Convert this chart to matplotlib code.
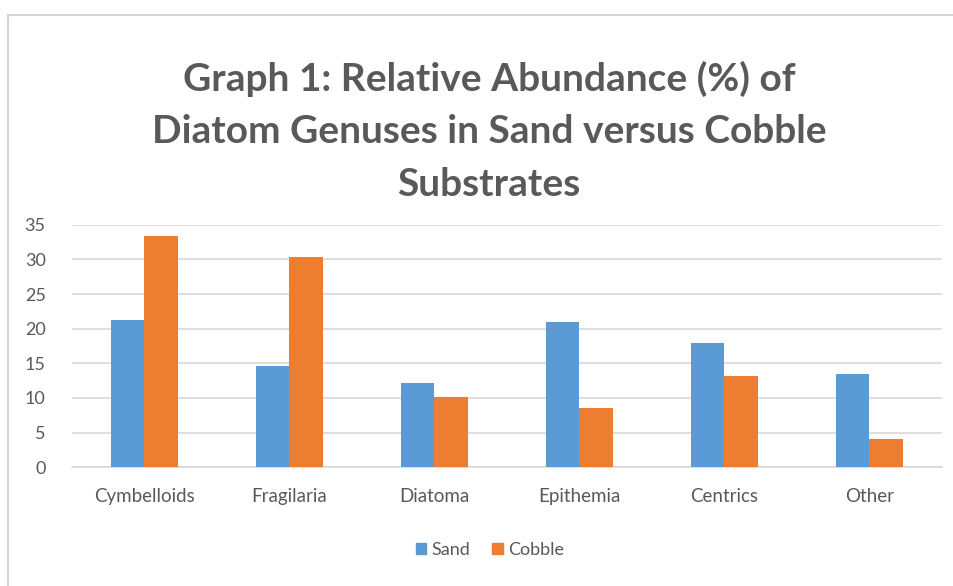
import matplotlib
matplotlib.use("Agg")
import matplotlib.pyplot as plt
from matplotlib.patches import Rectangle, Patch
import numpy as np

categories = ["Cymbelloids", "Fragilaria", "Diatoma", "Epithemia", "Centrics", "Other"]
sand = [21.2, 14.6, 12.2, 20.9, 18.0, 13.4]
cobble = [33.3, 30.4, 10.2, 8.5, 13.1, 4.1]
yticks = [0, 5, 10, 15, 20, 25, 30, 35]

title = "Graph 1: Relative Abundance (%) of\nDiatom Genuses in Sand versus Cobble\nSubstrates"

text_color = "#595959"
grid_color = "#d9d9d9"
sand_color = "#5B9BD5"
cobble_color = "#ED7D31"
font = ["Lato", "DejaVu Sans"]

fig = plt.figure(figsize=(9.54, 5.86), dpi=100)
fig.patch.set_facecolor("white")

# light frame around the chart area
fig.patches.append(Rectangle((8.5 / 954, -0.1), 1.2, 1 - 14.5 / 586 + 0.1,
                             transform=fig.transFigure, fill=False,
                             edgecolor="#d4d4d4", linewidth=1.5))

ax = fig.add_axes([72 / 954, 1 - 467.3 / 586, 870 / 954, 242.6 / 586])

x = np.arange(len(categories))
w = 0.234
ax.bar(x - w / 2, sand, width=w, color=sand_color, label="Sand", zorder=3)
ax.bar(x + w / 2, cobble, width=w, color=cobble_color, label="Cobble", zorder=3)

ax.set_xlim(-0.5, len(categories) - 0.5)
ax.set_ylim(0, 35)
ax.set_yticks(yticks)
ax.set_yticklabels([str(t) for t in yticks], fontsize=13, color=text_color, family=font)
ax.set_xticks(x)
ax.set_xticklabels(categories, fontsize=13.5, color=text_color, family=font)
ax.tick_params(axis="both", length=0)
ax.tick_params(axis="y", pad=19)
ax.tick_params(axis="x", pad=15)

ax.yaxis.grid(True, color=grid_color, linewidth=1.2, zorder=0)
ax.set_axisbelow(True)
for s in ["left", "right", "top"]:
    ax.spines[s].set_visible(False)
ax.spines["bottom"].set_color(grid_color)
ax.spines["bottom"].set_linewidth(1.2)

fig.text(489 / 954, 1 - 131 / 586, title, ha="center", va="center",
         fontsize=28, fontweight="bold", color=text_color, family=font,
         linespacing=1.6)

handles = [Patch(color=sand_color, label="Sand"), Patch(color=cobble_color, label="Cobble")]
fig.legend(handles=handles, loc="center", bbox_to_anchor=(490 / 954, 1 - 550 / 586),
           ncol=2, frameon=False, handlelength=0.6, handleheight=0.6,
           handletextpad=0.3, columnspacing=1.2,
           prop={"family": font, "size": 13}, labelcolor=text_color)

fig.savefig("out.png", dpi=100, facecolor="white")
